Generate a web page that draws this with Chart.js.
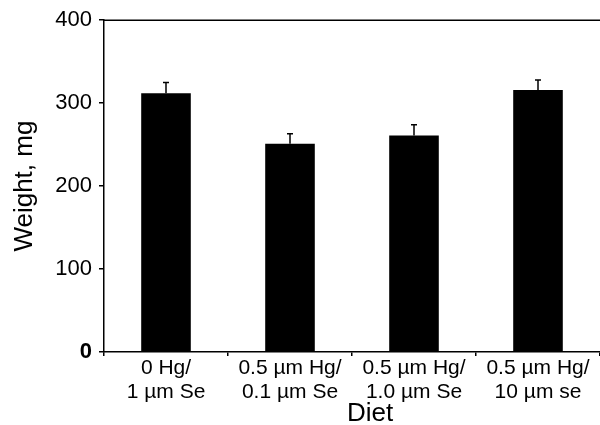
<!DOCTYPE html>
<html>
<head>
<meta charset="utf-8">
<script src="https://cdn.jsdelivr.net/npm/chart.js@4"></script>
<style>
  html, body { margin: 0; padding: 0; background: #fff; overflow: hidden; }
  #wrap { width: 600px; height: 425px; }
</style>
</head>
<body>
<div id="wrap"><canvas id="myChart"></canvas></div>
<script>
const diets = [
    ['0 Hg/', '1 µm Se'],
    ['0.5 µm Hg/', '0.1 µm Se'],
    ['0.5 µm Hg/', '1.0 µm Se'],
    ['0.5 µm Hg/', '10 µm se']
];
const weights = [312, 251, 261, 316];   // mg
const errors = [13, 12, 13, 12];        // upper error bar
const yTicks = [0, 100, 200, 300, 400];

const FONT = "'Liberation Sans', Arial, Helvetica, sans-serif";

// error bars + top frame line + x title
const extras = {
    id: 'extras',
    afterDatasetsDraw(chart) {
        const ctx = chart.ctx;
        const y = chart.scales.y;
        const meta = chart.getDatasetMeta(0);
        ctx.save();
        ctx.strokeStyle = '#000';
        ctx.lineWidth = 1.5;
        meta.data.forEach((bar, i) => {
            const top = y.getPixelForValue(weights[i] + errors[i]);
            const base = y.getPixelForValue(weights[i]);
            ctx.beginPath();
            ctx.moveTo(bar.x, base);
            ctx.lineTo(bar.x, top);
            ctx.moveTo(bar.x - 3, top);
            ctx.lineTo(bar.x + 3, top);
            ctx.stroke();
        });
        const a = chart.chartArea;
        ctx.beginPath();
        ctx.moveTo(a.left, a.top);
        ctx.lineTo(a.right, a.top);
        ctx.stroke();

        ctx.fillStyle = '#000';
        ctx.font = '26px ' + FONT;
        ctx.textAlign = 'center';
        ctx.textBaseline = 'middle';
        ctx.fillText('Diet', (a.left + a.right) / 2 + 18, 414);
        ctx.restore();
    }
};

const ctx = document.getElementById('myChart');

new Chart(ctx, {
    type: 'bar',
    data: {
        labels: diets,
        datasets: [{
            data: weights,
            backgroundColor: '#000',
            borderWidth: 0,
            categoryPercentage: 1.0,
            barPercentage: 0.4
        }]
    },
    options: {
        responsive: true,
        maintainAspectRatio: false,
        animation: false,
        layout: { padding: { top: 20, right: 0, left: 0, bottom: 0 } },
        plugins: {
            legend: { display: false },
            tooltip: { enabled: false }
        },
        scales: {
            x: {
                offset: true,
                afterFit(scale) { scale.height = 73; },
                grid: {
                    offset: true,
                    drawOnChartArea: false,
                    drawTicks: true,
                    tickLength: 4,
                    color: '#000',
                    lineWidth: 1.5
                },
                border: { display: true, color: '#000', width: 1.5 },
                ticks: {
                    color: '#000',
                    padding: 0,
                    maxRotation: 0,
                    font: { family: FONT, size: 21, lineHeight: 1.15 }
                }
            },
            y: {
                min: 0,
                max: 400,
                afterFit(scale) { scale.width = 104; },
                afterBuildTicks(scale) { scale.ticks = yTicks.map(v => ({ value: v })); },
                grid: {
                    drawOnChartArea: false,
                    drawTicks: true,
                    tickLength: 5,
                    color: '#000',
                    lineWidth: 1.5
                },
                border: { display: true, color: '#000', width: 1.5 },
                ticks: {
                    color: '#000',
                    padding: 7,
                    font: (c) => ({
                        family: FONT,
                        size: 22,
                        weight: c.tick && c.tick.value === 0 ? 'bold' : 'normal'
                    })
                },
                title: {
                    display: true,
                    text: 'Weight, mg',
                    color: '#000',
                    padding: { top: 9, bottom: 0 },
                    font: { family: FONT, size: 26 }
                }
            }
        }
    },
    plugins: [extras]
});
</script>
</body>
</html>
